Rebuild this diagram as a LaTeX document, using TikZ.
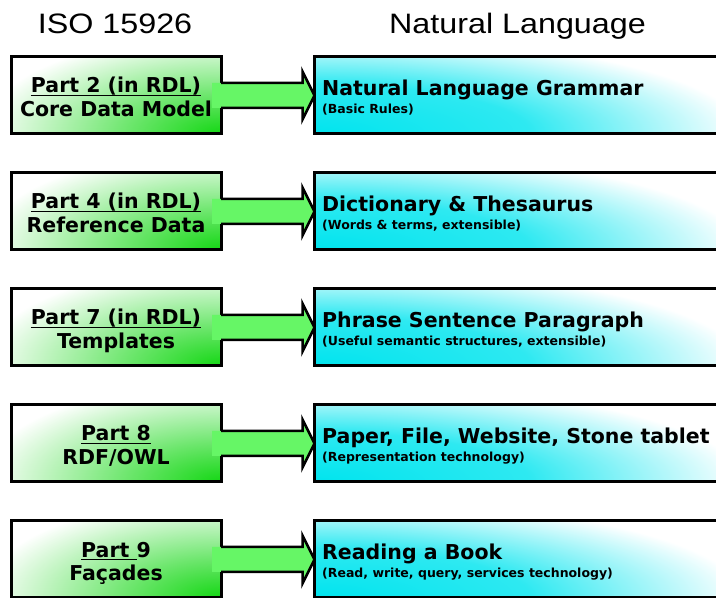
\documentclass[tikz,border=0pt]{standalone}
\usepackage{fontspec}
\setmainfont{DejaVu Sans}
\newfontfamily\headfont{Liberation Sans}
\usetikzlibrary{calc}

\definecolor{arrowgreen}{RGB}{102,246,102}
\definecolor{boxgreen}{RGB}{20,215,20}
\definecolor{boxcyan}{RGB}{0,228,238}

% corner gradients for the two columns of boxes (white well before 50bp)
\pgfdeclareradialshading{greencorner}{\pgfpoint{0bp}{0bp}}{%
  color(0bp)=(boxgreen); color(15bp)=(boxgreen!62!white);
  color(38bp)=(white); color(50bp)=(white)}
\pgfdeclareradialshading{cyancorner}{\pgfpoint{0bp}{0bp}}{%
  color(0bp)=(boxcyan); color(19bp)=(boxcyan!82!white);
  color(38bp)=(white); color(50bp)=(white)}

% place a corner gradient stretched by the given factors
\newcommand\cornershade[4]{% shading, anchor, x factor, y factor
  \pgftransformshift{\pgfpointanchor{path picture bounding box}{#2}}%
  \pgftransformxscale{#3}\pgftransformyscale{#4}%
  \pgflowlevelsynccm
  \pgfuseshading{#1}}

% underline with a rule of fixed thickness
\newcommand\partul[1]{\setbox0=\hbox{#1}\rlap{\rule[-3.2pt]{\wd0}{1.6pt}}\box0\relax}

% block arrow from one box to the next
\newcommand\linkarrow[2]{%
  \fill[arrowgreen] let \p1=(#1.east), \p2=(#2.west) in
    (\x1-9pt,\y1+12.5pt) -- (\x2-12pt,\y1+12.5pt) -- (\x2-12pt,\y1+24pt) --
    (\x2,\y1) -- (\x2-12pt,\y1-24pt) -- (\x2-12pt,\y1-12.5pt) --
    (\x1-9pt,\y1-12.5pt) -- cycle;
  \draw[arrowline] let \p1=(#1.east), \p2=(#2.west) in
    (\x1,\y1+12.5pt) -- (\x2-12pt,\y1+12.5pt) -- (\x2-12pt,\y1+24pt) --
    (\x2,\y1) -- (\x2-12pt,\y1-24pt) -- (\x2-12pt,\y1-12.5pt) --
    (\x1,\y1-12.5pt);%
}

\tikzset{
  isobox/.style={draw=black, line width=3pt, minimum width=210pt,
    minimum height=77pt, outer sep=0pt, inner sep=0pt, fill=white,
    path picture={\cornershade{greencorner}{south east}{6.3}{2.63}}},
  langbox/.style={draw=black, line width=3pt, minimum width=470pt,
    minimum height=77pt, outer sep=0pt, inner sep=0pt, fill=white,
    path picture={\cornershade{cyancorner}{south west}{11.3}{2.63}}},
  arrowline/.style={draw=black, line width=2.5pt, line join=miter},
  parttxt/.style={font=\bfseries\fontsize{20.5}{24}\selectfont,
    inner sep=0pt, anchor=base},
  titletxt/.style={font=\bfseries\fontsize{20.5}{24}\selectfont,
    inner sep=0pt, anchor=base west},
  subtxt/.style={font=\bfseries\fontsize{12.5}{14}\selectfont,
    inner sep=0pt, anchor=base west},
  headtxt/.style={font=\headfont\fontsize{32.3}{36}\selectfont,
    inner sep=0pt, anchor=base},
}

\begin{document}
\begin{tikzpicture}[x=1pt,y=1pt]
\clip (0,0) rectangle (716,598);
\fill[white] (0,0) rectangle (716,598);

% column headings
\node[headtxt] (isohead) at (115,564.7) {\scalebox{1}[0.87]{ISO 15926}};
\node[headtxt] (nlhead) at (517.5,564.7) {\scalebox{1}[0.87]{Natural Language}};

% ISO 15926 parts
\node[isobox] (p2) at (116,502.5) {};
\node[isobox] (p4) at (116,386.5) {};
\node[isobox] (p7) at (116,270.5) {};
\node[isobox] (p8) at (116,154.5) {};
\node[isobox] (p9) at (116,38.5) {};

% natural language counterparts
\node[langbox] (nl1) at (549.5,502.5) {};
\node[langbox] (nl2) at (549.5,386.5) {};
\node[langbox] (nl3) at (549.5,270.5) {};
\node[langbox] (nl4) at (549.5,154.5) {};
\node[langbox] (nl5) at (549.5,38.5) {};

% mapping arrows
\linkarrow{p2}{nl1}
\linkarrow{p4}{nl2}
\linkarrow{p7}{nl3}
\linkarrow{p8}{nl4}
\linkarrow{p9}{nl5}

% part labels
\node[parttxt] (p2a) at ($(p2.center)+(0,2.5)$) {\partul{Part 2 (in RDL)}};
\node[parttxt] (p2b) at ($(p2.center)+(0,-21.5)$) {Core Data Model};
\node[parttxt] (p4a) at ($(p4.center)+(0,2.5)$) {\partul{Part 4 (in RDL)}};
\node[parttxt] (p4b) at ($(p4.center)+(0,-21.5)$) {Reference Data};
\node[parttxt] (p7a) at ($(p7.center)+(0,2.5)$) {\partul{Part 7 (in RDL)}};
\node[parttxt] (p7b) at ($(p7.center)+(0,-21.5)$) {Templates};
\node[parttxt] (p8a) at ($(p8.center)+(0,2.5)$) {\partul{Part 8}};
\node[parttxt] (p8b) at ($(p8.center)+(0,-21.5)$) {RDF/OWL};
\node[parttxt] (p9a) at ($(p9.center)+(0,2.5)$) {\partul{Part\ }9};
\node[parttxt] (p9b) at ($(p9.center)+(0,-21.5)$) {Façades};

% natural language labels
\node[titletxt] (nl1a) at ($(nl1.west)+(7.5,0)$) {Natural Language Grammar};
\node[subtxt] (nl1b) at ($(nl1.west)+(7.5,-18.5)$) {(Basic Rules)};
\node[titletxt] (nl2a) at ($(nl2.west)+(7.5,0)$) {Dictionary \& Thesaurus};
\node[subtxt] (nl2b) at ($(nl2.west)+(7.5,-18.5)$) {(Words \& terms, extensible)};
\node[titletxt] (nl3a) at ($(nl3.west)+(7.5,0)$) {Phrase Sentence Paragraph};
\node[subtxt] (nl3b) at ($(nl3.west)+(7.5,-18.5)$) {(Useful semantic structures, extensible)};
\node[titletxt] (nl4a) at ($(nl4.west)+(7.5,0)$) {Paper, File, Website, Stone tablet};
\node[subtxt] (nl4b) at ($(nl4.west)+(7.5,-18.5)$) {(Representation technology)};
\node[titletxt] (nl5a) at ($(nl5.west)+(7.5,0)$) {Reading a Book};
\node[subtxt] (nl5b) at ($(nl5.west)+(7.5,-18.5)$) {(Read, write, query, services technology)};
\end{tikzpicture}
\end{document}
